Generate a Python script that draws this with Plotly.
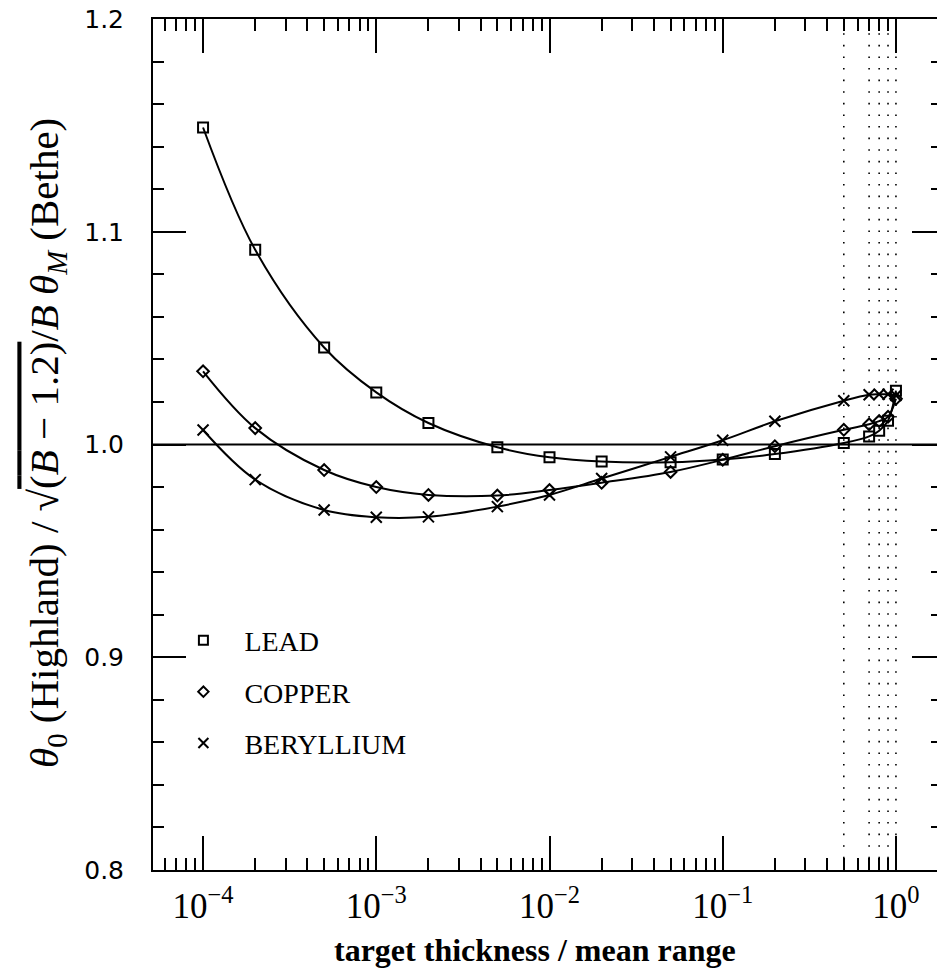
import plotly.graph_objects as go

# ---------------- data ----------------
thickness = [1e-4, 2e-4, 5e-4, 1e-3, 2e-3, 5e-3, 1e-2, 2e-2, 5e-2, 0.1, 0.2, 0.5, 0.7, 0.8, 0.9, 1.0]
lead = [1.149, 1.0915, 1.0456, 1.0245, 1.0101, 0.9987, 0.994, 0.992, 0.9917, 0.993, 0.9955,
        1.0007, 1.0038, 1.0065, 1.0112, 1.0253]
copper = [1.0344, 1.0077, 0.988, 0.980, 0.9763, 0.976, 0.9786, 0.982, 0.9871, 0.9928, 0.9992,
          1.0069, 1.0095, 1.011, 1.013, 1.0215]
beryllium = [1.0068, 0.9835, 0.9692, 0.9658, 0.966, 0.9708, 0.9763, 0.984, 0.9942, 1.002, 1.0109,
             1.0206, 1.0234, 1.0236, 1.0236, 1.023]
series_names = ["LEAD", "COPPER", "BERYLLIUM"]
series_symbols = ["square-open", "diamond-open", "x-thin-open"]
boundary_x = [0.5, 0.7, 0.8, 0.9, 1.0]
x_major = [1e-4, 1e-3, 1e-2, 1e-1, 1.0]
x_major_text = ["10<sup>−4</sup>", "10<sup>−3</sup>", "10<sup>−2</sup>", "10<sup>−1</sup>", "10<sup>0</sup>"]
y_major = [0.8, 0.9, 1.0, 1.1, 1.2]
y_major_text = ["0.8", "0.9", "1.0", "1.1", "1.2"]
y_range = [0.8, 1.2]
reference_level = 1.0

x_minor = [m * 10.0 ** e for e in range(-5, 1) for m in range(2, 10)]

fig = go.Figure()

# dotted vertical boundary lines
vx, vy = [], []
for b in boundary_x:
    vx += [b, b, None]
    vy += [y_range[0], y_range[1], None]
fig.add_trace(go.Scatter(x=vx, y=vy, mode="lines", showlegend=False, hoverinfo="skip",
                         line=dict(color="black", width=1.6, dash="1.6px,10px")))

sizes = [10, 9, 11]
for name, vals, sym, sz in zip(series_names, [lead, copper, beryllium], series_symbols, sizes):
    fig.add_trace(go.Scatter(
        x=thickness, y=vals, mode="lines+markers", showlegend=False,
        line=dict(color="black", width=2, shape="spline", smoothing=1.0),
        marker=dict(symbol=sym, size=sz, color="black", line=dict(width=2, color="black")),
    ))
    fig.add_trace(go.Scatter(
        x=[None], y=[None], mode="markers", name=name, legendgroup=name,
        marker=dict(symbol=sym, size=sz - 1, color="black", line=dict(width=2, color="black")),
    ))

# dummy trace for right-side tick axis
fig.add_trace(go.Scatter(x=[None], y=[None], yaxis="y2", showlegend=False, hoverinfo="skip"))

fig.add_shape(type="line", xref="paper", x0=0, x1=1, yref="y", y0=reference_level, y1=reference_level,
              line=dict(color="black", width=1.8))

fig.update_layout(
    width=937, height=969,
    margin=dict(l=153, r=0, t=19, b=99),
    paper_bgcolor="white", plot_bgcolor="white",
    showlegend=True,
    legend=dict(x=0.012, y=0.299, xanchor="left", yanchor="top",
                font=dict(family="Liberation Serif", size=28, color="black"),
                itemwidth=72, tracegroupgap=12, bgcolor="rgba(0,0,0,0)", borderwidth=0),
    xaxis=dict(
        type="log", range=[-4.289, 0.237],
        showline=True, linecolor="black", linewidth=2, mirror="ticks",
        ticks="inside", ticklen=34, tickwidth=1.8, tickcolor="black",
        tickmode="array", tickvals=x_major, ticktext=x_major_text,
        tickfont=dict(family="Liberation Serif", size=35, color="black"),
        ticklabelstandoff=4,
        minor=dict(ticks="inside", ticklen=12, tickwidth=1.8, tickcolor="black",
                   tickmode="array", tickvals=x_minor, showgrid=False),
        showgrid=False, zeroline=False,
    ),
    yaxis=dict(
        range=y_range, showline=True, linecolor="black", linewidth=2, mirror=False,
        ticks="inside", ticklen=33, tickwidth=1.8, tickcolor="black",
        tickmode="array", tickvals=y_major, ticktext=y_major_text,
        tickfont=dict(family="DejaVu Sans", size=25, color="black"),
        ticklabelstandoff=22,
        minor=dict(ticks="inside", ticklen=11, tickwidth=1.8, tickcolor="black", dtick=0.02, showgrid=False),
        showgrid=False, zeroline=False,
    ),
    yaxis2=dict(
        range=y_range, overlaying="y", side="right", showline=False,
        ticks="inside", ticklen=25, tickwidth=1.8, tickcolor="black",
        tickmode="array", tickvals=y_major, showticklabels=False,
        minor=dict(ticks="inside", ticklen=6, tickwidth=1.8, tickcolor="black", dtick=0.02, showgrid=False),
        showgrid=False, zeroline=False,
    ),
)

fig.add_annotation(
    text="<b>target thickness / mean range</b>", xref="paper", yref="paper",
    x=0.487, y=-0.0935, xanchor="center", yanchor="middle", showarrow=False,
    font=dict(family="Liberation Serif", size=32, color="black"),
)
fig.add_annotation(
    text="<i>θ</i><sub>0</sub> (Highland) / √<span style='text-decoration:overline'>(<i>B</i> − 1.2)</span>/<i>B</i> <i>θ</i><sub><i>M</i></sub> (Bethe)",
    xref="paper", yref="paper", x=-0.135, y=0.502, xanchor="center", yanchor="middle",
    textangle=-90, showarrow=False,
    font=dict(family="Liberation Serif", size=41, color="black"),
)

fig.write_html("out.html")
